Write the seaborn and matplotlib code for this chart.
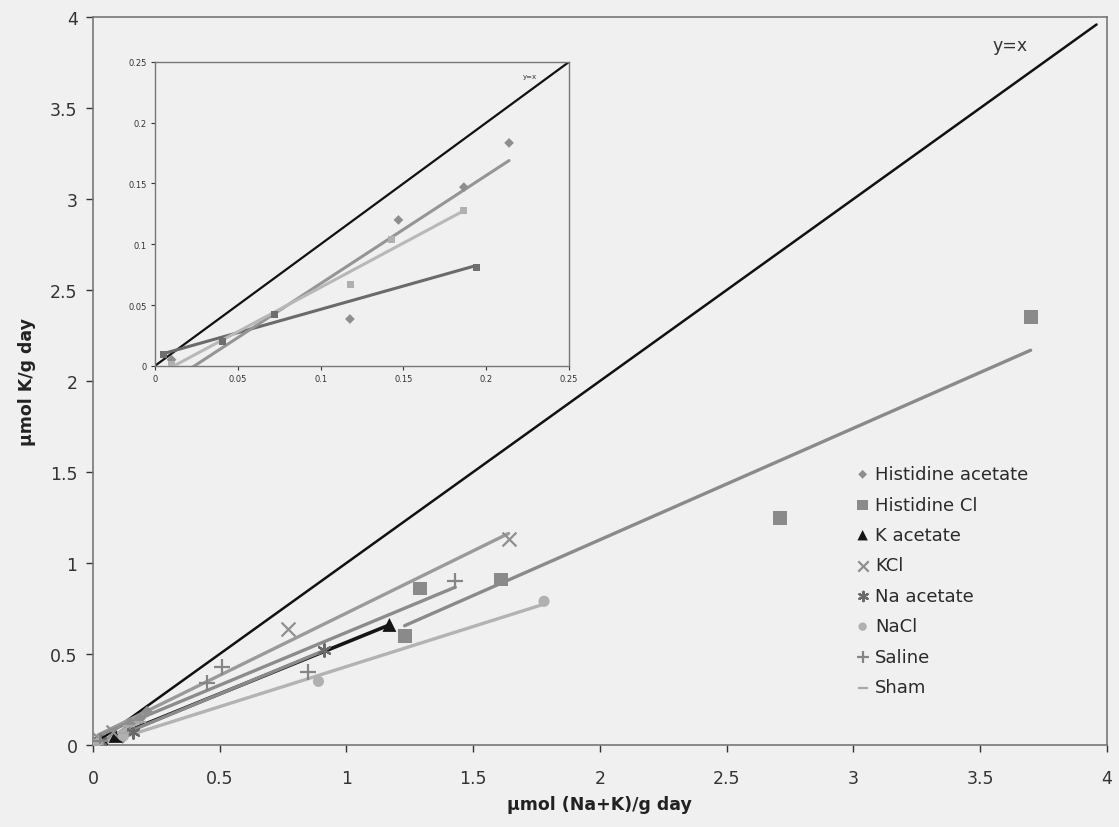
import numpy as np
import pandas as pd
import matplotlib
matplotlib.use("Agg")
import matplotlib.pyplot as plt
import seaborn as sns

# ---------------- data (main chart) ----------------
ha_x = [0.012, 0.1177, 0.147, 0.1865, 0.2138]          # Histidine acetate
ha_y = [0.003, 0.0385, 0.120, 0.147, 0.1834]
hcl_x = [1.23, 1.29, 1.61, 2.71, 3.70]                  # Histidine Cl
hcl_y = [0.60, 0.86, 0.91, 1.25, 2.35]
kac_x = [0.04, 0.09, 1.17]                              # K acetate
kac_y = [0.02, 0.05, 0.66]
kcl_x = [0.02, 0.08, 0.77, 1.64]                        # KCl
kcl_y = [0.04, 0.07, 0.64, 1.13]
naac_x = [0.03, 0.16, 0.91]                             # Na acetate
naac_y = [0.02, 0.07, 0.52]
nacl_x = [0.02, 0.12, 0.89, 1.78]                       # NaCl
nacl_y = [0.01, 0.05, 0.35, 0.79]
sal_x = [0.03, 0.45, 0.51, 0.85, 1.43]                  # Saline
sal_y = [0.02, 0.34, 0.43, 0.40, 0.90]
sham_x = [0.010, 0.118, 0.143, 0.1865]                  # Sham
sham_y = [0.001, 0.067, 0.104, 0.128]

labels = ["Histidine acetate", "Histidine Cl", "K acetate", "KCl",
          "Na acetate", "NaCl", "Saline", "Sham"]

# ---------------- data (inset chart) ----------------
in_ha_x = [0.010, 0.1177, 0.147, 0.1865, 0.2138]
in_ha_y = [0.005, 0.0385, 0.120, 0.147, 0.1834]
in_dark_x = [0.005, 0.041, 0.072, 0.194]
in_dark_y = [0.009, 0.020, 0.042, 0.081]
in_light_x = [0.010, 0.118, 0.143, 0.1865]
in_light_y = [0.001, 0.067, 0.104, 0.128]

main_ticks = [0, 0.5, 1, 1.5, 2, 2.5, 3, 3.5, 4]
main_ticklabels = ["0", "0.5", "1", "1.5", "2", "2.5", "3", "3.5", "4"]
inset_ticks = [0, 0.05, 0.1, 0.15, 0.2, 0.25]
inset_ticklabels = ["0", "0.05", "0.1", "0.15", "0.2", "0.25"]

# ---------------- styles ----------------
series = [
    (ha_x, ha_y, "D", "#8e8e8e", "#8e8e8e", 6),
    (hcl_x, hcl_y, "s", "#8a8a8a", "#8a8a8a", 10),
    (kac_x, kac_y, "^", "#151515", "#151515", 10),
    (kcl_x, kcl_y, "x", "#8f8f8f", "#9a9a9a", 10),
    (naac_x, naac_y, (6, 2, 0), "#6a6a6a", "#8a8a8a", 9),
    (nacl_x, nacl_y, "o", "#b0b0b0", "#b3b3b3", 8),
    (sal_x, sal_y, "+", "#858585", "#8c8c8c", 11),
    (sham_x, sham_y, "_", "#a8a8a8", "#b0b0b0", 9),
]

sns.set_theme(style="ticks")
plt.rcParams["font.family"] = ["DejaVu Sans"]
bg = "#f0f0f0"

fig = plt.figure(figsize=(11.19, 8.28), dpi=100, facecolor=bg)
ax = fig.add_axes([0.083, 0.099, 0.906, 0.879], facecolor=bg)

# y = x reference
ref = pd.DataFrame({"x": [0, 3.96], "y": [0, 3.96]})
sns.lineplot(data=ref, x="x", y="y", ax=ax, color="#111111", lw=1.8, zorder=2)
ax.text(3.62, 3.85, "y=x", fontsize=12.5, color="#333333", ha="center", va="center")

handles = []
for (xs, ys, mk, mc, lc, ms), lab in zip(series, labels):
    df = pd.DataFrame({"x": xs, "y": ys})
    lw = 2.4 if lab != "K acetate" else 2.6
    sns.regplot(data=df, x="x", y="y", ax=ax, scatter=False, ci=None, truncate=True,
                line_kws={"color": lc, "lw": lw, "zorder": 3})
    filled = mk not in ("x", "+", "_", (6, 2, 0))
    if filled:
        h = ax.scatter(xs, ys, marker=mk, s=ms ** 2, color=mc, edgecolors="none",
                       zorder=4, label=lab)
    else:
        h = ax.scatter(xs, ys, marker=mk, s=ms ** 2, color=mc, linewidths=1.6,
                       zorder=4, label=lab)
    handles.append(h)

ax.set_xlim(0, 4)
ax.set_ylim(0, 4)
ax.set_xticks(main_ticks)
ax.set_xticklabels(main_ticklabels)
ax.set_yticks(main_ticks)
ax.set_yticklabels(main_ticklabels)
ax.tick_params(labelsize=12.5, colors="#333333", length=5, width=1, direction="out",
               pad=6)
ax.tick_params(axis="x", pad=12)
for s in ax.spines.values():
    s.set_color("#777777")
    s.set_linewidth(1.2)
ax.set_xlabel("µmol (Na+K)/g day", fontsize=12.5, fontweight="bold", color="#222222",
              labelpad=6)
ax.set_ylabel("µmol K/g day", fontsize=12.5, fontweight="bold", color="#222222",
              labelpad=10)

leg = ax.legend(handles=handles, labels=labels, loc="upper left",
                bbox_to_anchor=(0.737, 0.407), frameon=False, fontsize=13,
                handlelength=0.7, handletextpad=0.35, labelspacing=0.69,
                markerscale=0.75)
for t in leg.get_texts():
    t.set_color("#2a2a2a")

# ---------------- inset ----------------
axi = fig.add_axes([0.1385, 0.557, 0.370, 0.367], facecolor=bg)
refi = pd.DataFrame({"x": [0, 0.25], "y": [0, 0.25]})
sns.lineplot(data=refi, x="x", y="y", ax=axi, color="#111111", lw=1.6, zorder=2)
axi.text(0.2265, 0.2385, "y=x", fontsize=5, color="#333333", ha="center", va="center")

inset_series = [
    (in_dark_x, in_dark_y, "s", "#6e6e6e", "#6a6a6a", 3.5),
    (in_ha_x, in_ha_y, "D", "#8e8e8e", "#959595", 3.5),
    (in_light_x, in_light_y, "s", "#b0b0b0", "#b8b8b8", 3.5),
]
for xs, ys, mk, mc, lc, ms in inset_series:
    df = pd.DataFrame({"x": xs, "y": ys})
    sns.regplot(data=df, x="x", y="y", ax=axi, scatter=False, ci=None, truncate=True,
                line_kws={"color": lc, "lw": 2.2, "zorder": 3})
    axi.scatter(xs, ys, marker=mk, s=ms ** 2 * 2, color=mc, edgecolors="none", zorder=4)

axi.set_xlim(0, 0.25)
axi.set_ylim(0, 0.25)
axi.set_xticks(inset_ticks)
axi.set_xticklabels(inset_ticklabels)
axi.set_yticks(inset_ticks)
axi.set_yticklabels(inset_ticklabels)
axi.tick_params(labelsize=6, colors="#333333", length=3, width=0.8, pad=3)
axi.set_xlabel("")
axi.set_ylabel("")
for s in axi.spines.values():
    s.set_color("#777777")
    s.set_linewidth(1.0)

fig.savefig("out.png", dpi=100, facecolor=bg)
